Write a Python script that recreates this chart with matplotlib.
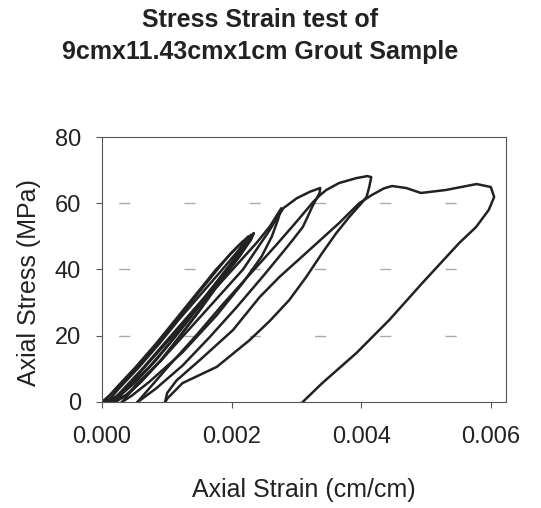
import matplotlib.pyplot as plt

# Stress-strain loops (strain in cm/cm, stress in MPa)
# first group of small cycles near the origin
c1_strain = [0, 0.000207, 0.000518, 0.000829, 0.00114, 0.00145, 0.00176, 0.00197, 0.002175,
             0.002144, 0.00197, 0.001657, 0.001347, 0.001036, 0.000725, 0.000414, 0.000207, 0.000031]
c1_stress = [0, 3.5, 10, 17, 24.5, 32, 39.5, 44.5, 48.5,
             46.5, 41, 33, 25, 17.5, 10.5, 4.5, 1.5, 0]

c2_strain = [0.000031, 0.000207, 0.000518, 0.000829, 0.00114, 0.00145, 0.00176, 0.00207, 0.002258,
             0.002217, 0.00207, 0.00176, 0.00145, 0.00114, 0.000829, 0.000518, 0.000311, 0.000083]
c2_stress = [0, 4, 10.5, 17.5, 25, 32.5, 40, 46.5, 50,
             48, 44, 36, 28, 20, 12.5, 6, 2.5, 0]

c3_strain = [0.000083, 0.000259, 0.00057, 0.00088, 0.001191, 0.001502, 0.001813, 0.002072, 0.0023,
             0.002269, 0.002124, 0.001813, 0.001502, 0.001191, 0.00088, 0.00057, 0.000363, 0.000145]
c3_stress = [0, 4, 10.5, 17.5, 25, 32, 39, 45, 50.5,
             48.5, 44, 36, 27.5, 19.5, 12, 5.5, 2, 0]

c4_strain = [0.000145, 0.000311, 0.000622, 0.000932, 0.001243, 0.001554, 0.001865, 0.002124, 0.002341,
             0.0023, 0.002175, 0.001865, 0.001554, 0.001243, 0.000932, 0.000622, 0.000414, 0.000207]
c4_stress = [0, 3.5, 10, 17, 24, 31, 38.5, 44.5, 51,
             49, 45.5, 37.5, 29, 21, 13, 6.5, 2.5, 0]

# cycle to ~58 MPa
cb_strain = [0.000207, 0.000414, 0.000725, 0.00114, 0.001554, 0.001968, 0.002383, 0.00259, 0.002766,
             0.002714, 0.002621, 0.002465, 0.002175, 0.001761, 0.001243, 0.000725, 0.000466, 0.000311]
cb_stress = [0, 5, 12, 21, 30, 39, 48, 53, 58.5,
             55, 50, 44, 36, 26, 15, 6, 2, 0]

# cycle to ~65 MPa
cc_strain = [0.000311, 0.000518, 0.000932, 0.001347, 0.001761, 0.002175, 0.00259, 0.002797, 0.003004,
             0.003211, 0.003367, 0.003356, 0.003242, 0.00317, 0.003097, 0.002942, 0.002818, 0.002486,
             0.002072, 0.001657, 0.001243, 0.000829, 0.000622, 0.000549]
cc_stress = [0, 5, 13, 22, 31, 40, 52, 58.5, 61.5,
             63.5, 64.6, 63.1, 58.9, 55.8, 52.8, 48.9, 45.9, 38,
             28.5, 19.5, 11, 4, 1, 0]

# cycle to ~68 MPa
cd_strain = [0.000549, 0.000725, 0.001036, 0.00145, 0.001865, 0.002279, 0.002693, 0.003004, 0.003263,
             0.003367, 0.00346, 0.003657, 0.003926, 0.004092, 0.004154, 0.004123, 0.004081, 0.004019,
             0.003812, 0.003615, 0.003398, 0.003149, 0.00289, 0.00259, 0.002279, 0.001771, 0.001243,
             0.001015, 0.000974]
cd_stress = [0, 4, 11, 20, 29.5, 38.5, 47.5, 54.5, 60.5,
             62.5, 64, 66.1, 67.6, 68.2, 67.9, 64.9, 61.9, 60.4,
             55.8, 51, 45, 37.7, 30.8, 24.5, 18.7, 10.6, 5.7,
             1.2, 0]

# last cycle past the peak
ce_strain = [0.000974, 0.001005, 0.00115, 0.001512, 0.00202, 0.002434, 0.002735, 0.003149, 0.003657,
             0.003967, 0.004164, 0.004351, 0.004475, 0.004693, 0.00492, 0.005304, 0.00578, 0.005998,
             0.00605, 0.005967, 0.00577, 0.005511, 0.004941, 0.004434, 0.003926, 0.003398, 0.003097]
ce_stress = [0, 2.7, 6.5, 12.7, 21.7, 31.7, 37.7, 45, 54,
             60, 62.5, 64.5, 65.2, 64.6, 63.1, 64, 65.8, 64.9,
             61.9, 58, 52.8, 48, 35.9, 24.8, 14.8, 5.7, 0]

cycles = [(c1_strain, c1_stress), (c2_strain, c2_stress), (c3_strain, c3_stress),
          (c4_strain, c4_stress), (cb_strain, cb_stress), (cc_strain, cc_stress),
          (cd_strain, cd_stress), (ce_strain, ce_stress)]

x_ticks = [0.000, 0.002, 0.004, 0.006]
y_ticks = [0, 20, 40, 60, 80]

plt.rcParams['font.family'] = ['Liberation Sans', 'DejaVu Sans']
txt = '#222222'

fig = plt.figure(figsize=(5.41, 5.08), dpi=100)
ax = fig.add_axes([0.1885, 0.2087, 0.7465, 0.5216])

# sparse dashed gridlines, as in the scan
for yv in y_ticks[1:-1]:
    ax.axhline(yv, color='#aaaaaa', lw=1.0, linestyle=(35, (8, 39)), zorder=1)

for s, t in cycles:
    ax.plot(s, t, color='#222222', lw=1.8, zorder=2)

ax.set_xlim(0, 0.00623)
ax.set_ylim(0, 80)
ax.set_xticks(x_ticks)
ax.set_xticklabels(['%.3f' % v for v in x_ticks])
ax.set_yticks(y_ticks)
ax.tick_params(direction='out', length=4, width=0.8, colors='#555555',
               labelcolor=txt, labelsize=17, pad=11)
ax.tick_params(axis='x', pad=13)
for sp in ax.spines.values():
    sp.set_color('#555555')
    sp.set_linewidth(0.8)

ax.set_xlabel('Axial Strain (cm/cm)', fontsize=18, color=txt, labelpad=22)
ax.set_ylabel('Axial Stress (MPa)', fontsize=18, color=txt)
ax.yaxis.set_label_coords(-0.15, 0.45)

fig.text(0.48, 0.985, 'Stress Strain test of\n9cmx11.43cmx1cm Grout Sample',
         ha='center', va='top', fontsize=18, fontweight='bold', color=txt,
         linespacing=1.45)

fig.savefig('out.png', dpi=100)
